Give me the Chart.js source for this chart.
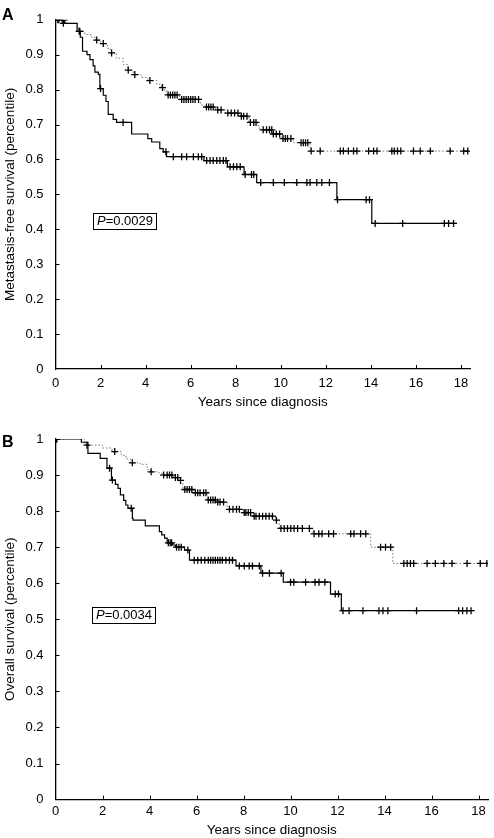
<!DOCTYPE html>
<html>
<head>
<meta charset="utf-8">
<script src="https://cdn.jsdelivr.net/npm/chart.js@4"></script>
<style>
  body { margin: 0; background: #fff; }
  canvas { display: block; }
</style>
</head>
<body>
<canvas id="chartA" width="494" height="419"></canvas>
<canvas id="chartB" width="494" height="419"></canvas>
<script>
// Panel A - metastasis-free survival
let aSolidTimes = [0, 0.3, 0.96, 1.1, 1.2, 1.4, 1.53, 1.67, 1.75, 1.9, 1.97, 2.12, 2.24, 2.34, 2.56, 2.71, 3.38, 4.1, 4.27, 4.63, 4.78, 4.93, 6.59, 7.63, 8.37, 8.93, 12.49, 14.04, 17.8]
let aSolidSurv = [1, 0.99, 0.967, 0.95, 0.91, 0.9, 0.886, 0.868, 0.85, 0.844, 0.803, 0.784, 0.766, 0.729, 0.715, 0.706, 0.673, 0.66, 0.65, 0.631, 0.622, 0.608, 0.597, 0.579, 0.557, 0.534, 0.485, 0.417, 0.417]
let aSolidCensored = [0.1, 0.35, 1.05, 2.0, 3.0, 4.9, 5.23, 5.6, 5.82, 6.12, 6.34, 6.49, 6.71, 6.86, 7.0, 7.16, 7.3, 7.45, 7.57, 7.75, 7.9, 8.05, 8.2, 8.42, 8.7, 8.8, 9.11, 9.67, 10.16, 10.71, 11.16, 11.3, 11.6, 11.82, 12.16, 12.52, 13.79, 13.94, 14.19, 15.41, 17.26, 17.45, 17.67]

let aDotTimes = [0, 0.45, 0.96, 1.05, 1.3, 1.6, 1.8, 2.0, 2.3, 2.45, 2.7, 3.0, 3.2, 3.45, 3.8, 4.1, 4.5, 4.7, 4.85, 4.97, 5.5, 6.45, 6.6, 7.1, 7.55, 8.2, 8.58, 8.95, 9.05, 9.62, 10.05, 10.55, 11.3, 18.3]
let aDotSurv = [1, 0.99, 0.975, 0.967, 0.958, 0.95, 0.942, 0.932, 0.918, 0.905, 0.89, 0.872, 0.856, 0.843, 0.835, 0.826, 0.815, 0.806, 0.795, 0.785, 0.772, 0.756, 0.75, 0.742, 0.733, 0.724, 0.706, 0.697, 0.685, 0.673, 0.66, 0.648, 0.624, 0.624]
let aDotCensored = [0.15, 0.4, 1.08, 1.83, 2.12, 2.49, 3.23, 3.52, 4.19, 4.75, 5.0, 5.1, 5.2, 5.3, 5.4, 5.6, 5.7, 5.8, 5.9, 6.0, 6.1, 6.2, 6.35, 6.7, 6.8, 6.9, 7.0, 7.2, 7.35, 7.65, 7.8, 7.95, 8.1, 8.25, 8.35, 8.5, 8.65, 8.8, 8.9, 9.22, 9.37, 9.5, 9.6, 9.67, 9.8, 9.95, 10.1, 10.2, 10.3, 10.45, 10.9, 11.0, 11.1, 11.2, 11.35, 11.75, 12.64, 12.78, 13.0, 13.23, 13.38, 13.9, 14.12, 14.27, 14.93, 15.04, 15.18, 15.33, 15.89, 16.19, 16.64, 17.52, 18.12, 18.3]

// Panel B - overall survival
let bSolidTimes = [0, 1.1, 1.38, 1.9, 2.19, 2.38, 2.55, 2.66, 2.76, 2.9, 2.99, 3.08, 3.27, 3.3, 3.82, 4.42, 4.52, 4.64, 4.75, 4.99, 5.1, 5.49, 5.7, 7.68, 8.74, 9.69, 11.7, 12.16, 17.79]
let bSolidSurv = [1, 0.991, 0.96, 0.946, 0.919, 0.886, 0.874, 0.863, 0.845, 0.83, 0.817, 0.808, 0.78, 0.775, 0.759, 0.743, 0.734, 0.725, 0.712, 0.706, 0.7, 0.692, 0.664, 0.648, 0.628, 0.603, 0.57, 0.524, 0.524]
let bSolidCensored = [0.05, 2.3, 2.42, 3.22, 4.8, 4.88, 4.94, 5.15, 5.25, 5.35, 5.63, 5.9, 6.05, 6.2, 6.35, 6.5, 6.6, 6.7, 6.8, 6.9, 7.0, 7.1, 7.25, 7.4, 7.53, 7.82, 8.03, 8.24, 8.38, 8.67, 8.81, 9.1, 9.6, 10.0, 10.14, 10.64, 11.04, 11.21, 11.46, 11.9, 12.04, 12.23, 12.49, 13.08, 13.76, 13.93, 14.14, 15.36, 17.15, 17.32, 17.5, 17.68]

let bDotTimes = [0, 1.24, 1.3, 2.0, 2.4, 2.8, 3.0, 3.2, 3.6, 3.9, 4.05, 4.4, 4.6, 5.0, 5.3, 5.42, 5.5, 5.88, 6.45, 6.9, 7.3, 8.0, 8.38, 9.35, 9.52, 10.96, 13.41, 14.35, 18.35]
let bDotSurv = [1, 0.99, 0.983, 0.975, 0.965, 0.955, 0.945, 0.934, 0.93, 0.915, 0.909, 0.905, 0.9, 0.893, 0.885, 0.864, 0.86, 0.851, 0.831, 0.825, 0.805, 0.796, 0.786, 0.775, 0.752, 0.737, 0.7, 0.655, 0.655]
let bDotCensored = [0.05, 1.34, 2.52, 3.27, 4.07, 4.6, 4.75, 4.85, 4.95, 5.1, 5.2, 5.32, 5.5, 5.6, 5.7, 5.8, 5.95, 6.05, 6.15, 6.3, 6.4, 6.5, 6.6, 6.7, 6.8, 6.9, 7.0, 7.15, 7.4, 7.55, 7.7, 7.82, 8.03, 8.1, 8.2, 8.3, 8.45, 8.53, 8.67, 8.81, 8.95, 9.09, 9.23, 9.4, 9.59, 9.73, 9.87, 10.01, 10.15, 10.3, 10.5, 10.8, 11.0, 11.2, 11.34, 11.62, 11.83, 12.56, 12.7, 12.98, 13.2, 13.83, 14.04, 14.26, 14.82, 14.96, 15.1, 15.24, 15.81, 16.16, 16.52, 16.87, 17.51, 18.07, 18.35]

let yearTicks = [0, 2, 4, 6, 8, 10, 12, 14, 16, 18]
let survivalTicks = [0, 0.1, 0.2, 0.3, 0.4, 0.5, 0.6, 0.7, 0.8, 0.9, 1]

const FONT = 'Liberation Sans, Arial, Helvetica, sans-serif'

function toPoints(times, values) {
    return times.map(function(t, i) { return {x: t, y: values[i]} })
}

// censored patients sit on the curve at their censoring time
function censorPoints(censored, times, values) {
    return censored.map(function(t) {
        let s = values[0]
        for (let i = 0; i < times.length; i++) {
            if (times[i] <= t) s = values[i]
        }
        return {x: t, y: s}
    })
}

// inward tick marks, the P value box and the panel letter
const extras = {
    id: 'extras',
    afterDraw(chart, args, opts) {
        const ctx = chart.ctx
        const x = chart.scales.x
        const y = chart.scales.y
        const area = chart.chartArea
        ctx.save()
        ctx.strokeStyle = '#000'
        ctx.lineWidth = 1
        ctx.beginPath()
        yearTicks.forEach(function(v) {
            if (v === 0) return
            let px = Math.round(x.getPixelForValue(v)) + 0.5
            ctx.moveTo(px, area.bottom)
            ctx.lineTo(px, area.bottom - 4)
        })
        survivalTicks.forEach(function(v) {
            if (v === 0) return
            let py = Math.round(y.getPixelForValue(v)) + 0.5
            ctx.moveTo(area.left, py)
            ctx.lineTo(area.left + 4, py)
        })
        ctx.stroke()

        // P value box
        ctx.font = 'italic 13px ' + FONT
        let pW = ctx.measureText('P').width
        ctx.font = '13px ' + FONT
        let restW = ctx.measureText(opts.pText).width
        let bx = Math.round(x.getPixelForValue(opts.pX)) + 0.5
        let by = y.getPixelForValue(opts.pY)
        let bw = Math.round(pW + restW + 7)
        ctx.strokeRect(bx, Math.round(by - 8) + 0.5, bw, 16)
        ctx.fillStyle = '#000'
        ctx.textBaseline = 'middle'
        ctx.font = 'italic 13px ' + FONT
        ctx.fillText('P', bx + 3.5, by + 0.5)
        ctx.font = '13px ' + FONT
        ctx.fillText(opts.pText, bx + 3.5 + pW, by + 0.5)

        // panel letter
        ctx.font = 'bold 16px ' + FONT
        ctx.textBaseline = 'alphabetic'
        ctx.fillText(opts.letter, 2, opts.letterY)
        ctx.restore()
    }
}

function makeChart(id, p) {
    let ctx = document.getElementById(id).getContext('2d')
    return new Chart(ctx, {
        type: 'scatter',
        data: {
            datasets: [{
                label: 'censored (solid)',
                data: censorPoints(p.solidCensored, p.solidTimes, p.solidSurv),
                pointStyle: 'cross',
                pointRadius: 3.5,
                borderColor: '#000',
                borderWidth: 1.3,
                showLine: false
            }, {
                label: 'censored (dotted)',
                data: censorPoints(p.dotCensored, p.dotTimes, p.dotSurv),
                pointStyle: 'cross',
                pointRadius: 3.5,
                borderColor: '#000',
                borderWidth: 1.3,
                showLine: false
            }, {
                label: 'solid',
                data: toPoints(p.solidTimes, p.solidSurv),
                showLine: true,
                stepped: true,
                borderColor: '#000',
                borderWidth: 1.2,
                pointRadius: 0
            }, {
                label: 'dotted',
                data: toPoints(p.dotTimes, p.dotSurv),
                showLine: true,
                stepped: true,
                borderColor: '#777',
                borderWidth: 1,
                borderDash: [1.5, 2],
                pointRadius: 0
            }]
        },
        options: {
            responsive: false,
            animation: false,
            devicePixelRatio: 1,
            layout: { padding: { top: p.padTop, right: p.padRight, left: 0, bottom: 0 } },
            plugins: {
                legend: { display: false },
                tooltip: { enabled: false },
                extras: { letter: p.letter, letterY: p.letterY, pText: p.pText, pX: p.pX, pY: p.pY }
            },
            scales: {
                x: {
                    type: 'linear',
                    min: 0,
                    max: 18.4,
                    afterBuildTicks: function(scale) {
                        scale.ticks = yearTicks.map(function(v) { return {value: v} })
                    },
                    afterFit: function(scale) { scale.height = p.xHeight },
                    grid: { display: false, drawTicks: false },
                    border: { display: true, color: '#000', width: 1.3 },
                    ticks: { color: '#000', padding: p.xTickPad, maxRotation: 0, font: { family: FONT, size: 13 } },
                    title: {
                        display: true,
                        text: 'Years since diagnosis',
                        color: '#000',
                        font: { family: FONT, size: 13.5 },
                        padding: { top: 0, bottom: p.xTitlePad }
                    }
                },
                y: {
                    type: 'linear',
                    min: 0,
                    max: 1,
                    afterBuildTicks: function(scale) {
                        scale.ticks = survivalTicks.map(function(v) { return {value: v} })
                    },
                    afterFit: function(scale) { scale.width = 55.5 },
                    grid: { display: false, drawTicks: false },
                    border: { display: true, color: '#000', width: 1.3 },
                    ticks: {
                        color: '#000',
                        padding: 12,
                        font: { family: FONT, size: 13 },
                        callback: function(v) { return (v === 0 || v === 1) ? String(v) : v.toFixed(1) }
                    },
                    title: {
                        display: true,
                        text: p.yTitle,
                        color: '#000',
                        font: { family: FONT, size: 13.5 },
                        padding: { top: 2, bottom: 0 }
                    }
                }
            }
        },
        plugins: [extras]
    })
}

let chartA = makeChart('chartA', {
    solidTimes: aSolidTimes, solidSurv: aSolidSurv, solidCensored: aSolidCensored,
    dotTimes: aDotTimes, dotSurv: aDotSurv, dotCensored: aDotCensored,
    yTitle: 'Metastasis-free survival (percentile)',
    letter: 'A', letterY: 20, pText: '=0.0029', pX: 1.67, pY: 0.425,
    padTop: 9, padRight: 24, xHeight: 50, xTickPad: 7, xTitlePad: 9
})

let chartB = makeChart('chartB', {
    solidTimes: bSolidTimes, solidSurv: bSolidSurv, solidCensored: bSolidCensored,
    dotTimes: bDotTimes, dotSurv: bDotSurv, dotCensored: bDotCensored,
    yTitle: 'Overall survival (percentile)',
    letter: 'B', letterY: 28, pText: '=0.0034', pX: 1.57, pY: 0.512,
    padTop: 20, padRight: 6, xHeight: 38.4, xTickPad: 4, xTitlePad: 0
})
</script>
</body>
</html>
